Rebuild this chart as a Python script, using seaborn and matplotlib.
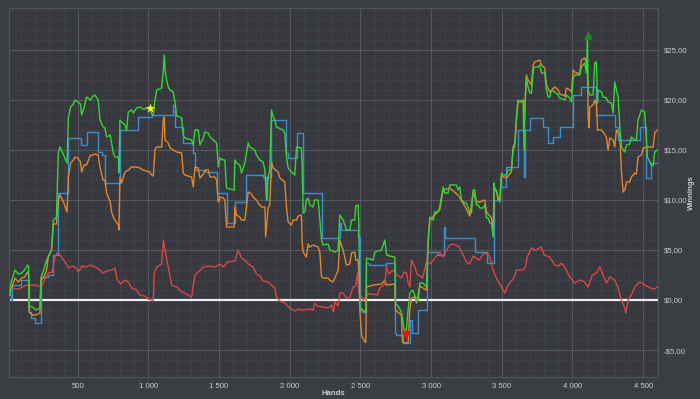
import pandas as pd
import matplotlib
matplotlib.use("Agg")
import matplotlib.pyplot as plt
import seaborn as sns
from matplotlib.ticker import FuncFormatter, MultipleLocator

# --- data (hands, winnings in $) ---
green_hands = [20, 28, 57, 80, 104, 125, 145, 153, 156, 180, 205, 233, 241, 260, 280, 292, 315, 328, 350,
               363, 375, 400, 425, 434, 450, 470, 481, 500, 520, 528, 545, 563, 590, 610, 622, 645, 658,
               680, 693, 705, 730, 752, 764, 788, 792, 799, 811, 835, 846, 858, 882, 893, 917, 940, 964,
               1011, 1023, 1035, 1047, 1059, 1094, 1106, 1113, 1118, 1129, 1141, 1153, 1176, 1188, 1200,
               1224, 1235, 1247, 1259, 1306, 1318, 1330, 1353, 1365, 1389, 1400, 1424, 1436, 1459, 1483,
               1495, 1507, 1530, 1541, 1553, 1607, 1612, 1624, 1647, 1659, 1682, 1706, 1718, 1753, 1765,
               1788, 1812, 1824, 1836, 1847, 1859, 1871, 1883, 1895, 1906, 1953, 1965, 1977, 1989, 2012,
               2036, 2048, 2083, 2088, 2095, 2107, 2118, 2130, 2142, 2165, 2177, 2201, 2213, 2225, 2236,
               2272, 2283, 2319, 2343, 2354, 2378, 2401, 2425, 2437, 2460, 2467, 2484, 2489, 2496, 2515,
               2538, 2543, 2590, 2602, 2649, 2673, 2685, 2708, 2743, 2748, 2767, 2790, 2809, 2825, 2837,
               2849, 2871, 2896, 2910, 2920, 2943, 2967, 2979, 2991, 3014, 3026, 3049, 3061, 3085, 3097,
               3120, 3132, 3179, 3191, 3203, 3215, 3238, 3250, 3274, 3286, 3297, 3309, 3321, 3333, 3345,
               3368, 3380, 3392, 3403, 3415, 3427, 3439, 3446, 3451, 3462, 3474, 3486, 3498, 3509, 3533,
               3545, 3568, 3580, 3592, 3604, 3615, 3627, 3651, 3658, 3665, 3674, 3686, 3698, 3710, 3722,
               3733, 3757, 3769, 3781, 3804, 3816, 3828, 3839, 3851, 3875, 3899, 3910, 3946, 3957, 3981,
               3993, 4005, 4016, 4052, 4063, 4087, 4099, 4106, 4111, 4122, 4146, 4158, 4170, 4177, 4181,
               4205, 4217, 4240, 4252, 4276, 4288, 4299, 4311, 4323, 4335, 4346, 4370, 4382, 4405, 4417,
               4441, 4452, 4464, 4488, 4511, 4530, 4558, 4570, 4582, 4600]
green_vals = [0.5, 1.7, 3.0, 2.6, 2.7, 3.0, 3.5, 3.3, -0.6, -0.7, -1.0, -0.8, 2.3, 3.0, 4.0, 4.3, 5.0, 8.0, 8.3,
              14.7, 15.3, 14.5, 13.7, 18.2, 19.3, 19.6, 20.0, 19.8, 19.6, 18.5, 19.2, 20.3, 20.0, 20.4, 20.5, 20.0, 18.0,
              17.3, 17.2, 16.3, 16.5, 14.7, 14.3, 14.3, 12.7, 18.0, 17.8, 17.5, 17.0, 18.8, 19.0, 18.7, 19.2, 19.3, 19.1,
              19.2, 18.6, 18.5, 20.0, 21.0, 21.2, 23.0, 24.5, 23.0, 22.0, 21.3, 21.0, 20.8, 19.8, 18.4,
              18.3, 18.2, 16.5, 16.2, 16.0, 15.5, 17.0, 17.0, 15.5, 16.2, 16.8, 16.7, 16.3, 16.0, 15.7,
              13.3, 14.2, 14.0, 14.0, 11.2, 11.0, 14.0, 13.7, 13.5, 12.7, 13.7, 15.7, 15.3, 15.0, 14.5,
              14.0, 13.8, 13.0, 10.0, 12.3, 13.0, 19.0, 18.3, 18.0, 17.3, 17.0, 16.7, 14.3, 13.2, 12.8,
              12.5, 15.3, 15.2, 13.3, 8.7, 8.8, 10.0, 10.2, 9.5, 9.3, 10.0, 10.0, 8.0, 6.0, 5.5,
              5.6, 5.0, 4.8, 5.0, 8.5, 8.0, 7.0, 7.0, 8.0, 8.0, 9.4, 9.5, 7.5, -0.7, -1.0,
              -1.2, 4.2, 4.0, 4.8, 5.0, 6.0, 4.5, 4.4, 4.3, -0.3, -0.6, -1.2, -3.0, -3.0, -1.0,
              0.7, 1.0, 0.0, 0.0, 1.7, 1.7, 1.3, 6.0, 8.3, 8.0, 8.8, 8.8, 9.3, 11.3, 10.7,
              10.7, 11.5, 11.5, 11.0, 11.3, 10.0, 9.7, 9.7, 8.7, 8.7, 11.0, 11.0, 9.5, 9.5, 9.2,
              9.2, 9.5, 8.2, 8.2, 7.7, 7.7, 6.3, 11.7, 11.0, 11.0, 10.0, 10.0, 12.7, 12.5, 12.5,
              13.0, 13.0, 15.3, 15.7, 18.3, 20.0, 19.8, 19.8, 15.0, 20.0, 22.2, 21.3, 20.7, 20.7, 23.0,
              23.3, 23.3, 23.5, 22.7, 22.7, 21.0, 20.3, 20.3, 21.0, 20.8, 20.5, 20.2, 20.0, 20.5, 20.2,
              19.8, 22.2, 22.5, 22.5, 23.3, 23.7, 22.7, 26.5, 21.0, 20.5, 20.5, 23.7, 23.8, 19.7, 21.0,
              20.8, 20.3, 20.2, 19.8, 19.7, 18.7, 21.8, 21.0, 20.3, 17.3, 15.3, 14.8, 15.5, 15.6, 16.3,
              16.0, 16.0, 18.0, 19.0, 18.8, 14.3, 13.5, 13.4, 14.8, 15.0]

orange_hands = [20, 28, 57, 80, 104, 125, 145, 153, 156, 180, 205, 233, 241, 260, 280, 292, 315, 328, 350,
                363, 375, 400, 425, 434, 450, 470, 481, 500, 520, 528, 545, 563, 590, 610, 622, 645, 658,
                680, 693, 705, 730, 740, 752, 764, 788, 792, 799, 811, 835, 858, 882, 917, 940, 964, 1011,
                1023, 1035, 1047, 1059, 1094, 1106, 1113, 1118, 1141, 1153, 1176, 1200, 1235, 1247, 1259,
                1306, 1318, 1330, 1353, 1365, 1389, 1400, 1424, 1436, 1471, 1483, 1495, 1507, 1530, 1541,
                1553, 1607, 1612, 1624, 1647, 1659, 1682, 1694, 1706, 1730, 1741, 1765, 1777, 1800, 1824,
                1830, 1847, 1859, 1871, 1883, 1918, 1930, 1965, 1977, 1989, 2012, 2024, 2048, 2059, 2083,
                2088, 2095, 2118, 2130, 2142, 2165, 2201, 2213, 2225, 2236, 2272, 2283, 2305, 2319, 2343,
                2354, 2378, 2401, 2425, 2437, 2460, 2467, 2484, 2489, 2496, 2508, 2531, 2538, 2543, 2590,
                2649, 2673, 2685, 2743, 2748, 2790, 2797, 2826, 2838, 2849, 2861, 2885, 2896, 2920, 2967,
                2979, 2991, 3026, 3061, 3085, 3132, 3191, 3238, 3274, 3297, 3321, 3345, 3380, 3392, 3427,
                3439, 3446, 3462, 3486, 3498, 3533, 3568, 3580, 3592, 3604, 3615, 3651, 3660, 3674, 3686,
                3710, 3722, 3733, 3769, 3781, 3804, 3816, 3839, 3875, 3899, 3910, 3946, 3957, 3981, 3993,
                4005, 4016, 4052, 4063, 4087, 4099, 4106, 4111, 4118, 4122, 4146, 4158, 4170, 4177, 4205,
                4217, 4240, 4252, 4264, 4288, 4299, 4311, 4335, 4346, 4358, 4370, 4382, 4405, 4417, 4441,
                4452, 4464, 4488, 4500, 4530, 4570, 4582, 4600]
orange_vals = [0.5, 1.0, 2.2, 1.8, 2.2, 2.3, 2.8, 2.5, -1.2, -1.5, -1.5, -1.3, 2.0, 2.3, 3.0, 4.3, 5.0, 7.6, 7.6,
               10.0, 10.5, 9.8, 8.8, 12.3, 13.7, 14.0, 14.3, 14.2, 13.8, 12.8, 13.5, 13.5, 14.5, 14.5, 14.6, 14.5, 13.3,
               12.0, 12.0, 10.7, 9.8, 8.8, 8.3, 8.0, 7.5, 7.0, 12.3, 11.7, 12.8, 13.0, 13.3, 13.3, 13.2, 13.0, 12.8,
               12.5, 12.4, 15.0, 15.3, 15.3, 18.0, 18.3, 16.0, 15.7, 15.2, 15.0, 14.8, 14.7, 12.7, 12.5,
               12.3, 11.3, 13.3, 13.2, 12.2, 12.6, 13.0, 13.0, 12.3, 12.3, 12.0, 9.8, 10.3, 10.2, 10.0,
               7.3, 7.3, 9.3, 8.5, 8.3, 8.0, 8.0, 9.3, 10.8, 10.6, 10.3, 10.0, 9.7, 9.3, 9.3,
               6.3, 9.2, 9.5, 13.8, 13.2, 12.8, 12.2, 11.8, 9.3, 7.8, 7.5, 8.0, 8.0, 8.4, 8.5,
               5.7, 4.8, 4.3, 5.6, 5.3, 5.5, 5.3, 4.8, 2.3, 2.2, 2.2, 2.0, 1.8, 2.2, 3.0,
               6.0, 5.0, 3.5, 3.6, 4.7, 4.8, 4.0, 4.0, 2.7, -1.0, -3.5, -4.2, -4.2, 1.3, 1.5,
               1.6, 2.0, 1.5, 1.6, -1.0, -1.5, -4.2, -4.3, -4.2, -1.0, 0.2, 0.3, -0.3, 1.4, 1.0,
               5.7, 8.0, 8.5, 9.0, 11.0, 11.2, 10.5, 9.4, 8.4, 10.8, 9.8, 9.8, 10.0, 8.8, 8.2,
               6.8, 11.4, 10.8, 9.8, 12.4, 12.2, 12.8, 15.0, 15.4, 18.0, 19.8, 20.0, 18.0, 22.5, 22.0,
               21.5, 23.5, 23.8, 24.0, 23.5, 23.2, 21.5, 20.8, 21.3, 21.0, 20.6, 20.4, 21.2, 21.0, 20.8,
               23.0, 22.8, 22.6, 24.0, 24.2, 23.7, 23.0, 18.3, 17.2, 19.3, 19.5, 20.0, 19.5, 17.0, 17.0,
               16.8, 16.3, 15.0, 16.2, 16.0, 15.3, 17.0, 16.5, 13.0, 10.8, 11.0, 11.8, 11.8, 12.3, 12.7,
               12.6, 14.3, 14.5, 15.2, 15.3, 15.3, 16.7, 17.0]

# blue changes in steps
blue_hands = [20, 25, 32, 100, 156, 170, 198, 241, 292, 328, 363, 434, 523, 563, 646, 670, 693, 799, 929,
              1023, 1176, 1188, 1247, 1318, 1330, 1400, 1483, 1553, 1612, 1694, 1812, 1829, 1838, 1871,
              1977, 1989, 2048, 2095, 2225, 2354, 2366, 2484, 2496, 2508, 2543, 2560, 2684, 2748, 2755,
              2802, 2849, 2867, 2908, 2972, 3050, 3089, 3100, 3309, 3392, 3446, 3486, 3533, 3615, 3658,
              3663, 3698, 3792, 3827, 3860, 3910, 4004, 4063, 4169, 4299, 4323, 4476, 4523, 4558, 4600]
blue_vals = [0.5, 0.0, 1.5, 2.0, -1.2, -1.8, -2.3, 2.3, 2.5, 4.5, 10.7, 16.2, 15.5, 16.8, 14.8, 14.5, 11.7, 17.0, 18.3,
             18.5, 19.5, 17.3, 15.7, 14.7, 13.0, 12.8, 10.7, 7.7, 9.8, 12.5, 12.3, 10.0, 12.3, 18.0,
             14.7, 14.2, 16.7, 10.7, 6.2, 7.7, 7.0, 6.3, -1.0, -1.2, 3.7, 3.5, 3.7, -3.3, -3.5,
             -4.3, -2.0, -3.3, -1.0, 4.8, 4.5, 7.3, 6.2, 4.8, 3.7, 10.0, 11.3, 13.3, 17.0, 12.3,
             17.0, 18.2, 17.3, 15.7, 16.3, 17.3, 20.5, 21.3, 18.5, 17.3, 16.0, 17.3, 12.2, 13.7, 13.7]

red_hands = [20, 40, 80, 110, 135, 160, 200, 241, 265, 292, 320, 340, 355, 375, 400, 425, 434, 460, 490, 505,
             530, 560, 590, 620, 640, 680, 705, 740, 764, 780, 805, 835, 858, 882, 917, 940, 975, 1000,
             1023, 1035, 1042, 1059, 1094, 1106, 1118, 1141, 1165, 1200, 1240, 1283, 1306, 1330, 1353,
             1389, 1424, 1471, 1507, 1530, 1560, 1612, 1635, 1659, 1682, 1706, 1741, 1765, 1788, 1812,
             1847, 1871, 1895, 1906, 1930, 1965, 2000, 2036, 2060, 2090, 2142, 2165, 2177, 2195, 2236,
             2272, 2295, 2310, 2319, 2343, 2354, 2378, 2401, 2425, 2449, 2467, 2479, 2489, 2500, 2520,
             2555, 2590, 2620, 2637, 2673, 2684, 2700, 2730, 2760, 2790, 2810, 2826, 2838, 2850, 2861,
             2885, 2900, 2920, 2940, 2967, 2990, 3017, 3061, 3085, 3110, 3132, 3160, 3200, 3250, 3272,
             3298, 3340, 3368, 3400, 3415, 3438, 3462, 3490, 3521, 3545, 3585, 3604, 3650, 3668, 3680,
             3710, 3740, 3780, 3800, 3839, 3875, 3900, 3923, 3946, 3981, 4016, 4052, 4087, 4111, 4140,
             4170, 4193, 4217, 4240, 4264, 4299, 4323, 4346, 4370, 4377, 4394, 4417, 4441, 4476, 4511,
             4550, 4580, 4600]
red_vals = [1.0, 1.2, 1.1, 1.3, 1.5, 1.5, 1.5, 1.3, 2.0, 2.7, 2.8, 4.3, 4.7, 4.5, 4.0, 3.5, 3.2, 3.4, 3.2, 2.8,
            3.4, 3.3, 3.5, 3.3, 3.2, 2.7, 2.9, 3.0, 3.2, 2.0, 1.6, 2.0, 1.8, 1.2, 1.0, 0.5, 0.4, 0.1,
            0.0, 0.0, 2.7, 3.3, 3.6, 6.0, 5.0, 3.3, 1.5, 1.3, 0.8, 0.5, 0.3, 2.5, 2.8,
            3.3, 3.4, 3.3, 3.6, 3.3, 3.8, 3.9, 5.0, 4.2, 4.0, 3.6, 3.3, 2.6, 2.4, 1.9,
            1.8, 1.5, 1.2, 0.3, -0.1, -0.3, -0.8, -1.1, -0.9, -1.0, -0.9, -1.0, -0.3, -0.6, -0.7,
            -0.8, -0.5, -1.2, -0.2, -0.6, 0.7, 0.7, 0.2, 0.3, 1.3, 1.4, 2.7, 0.8, 0.5, 0.0,
            0.6, 0.6, 0.5, 1.2, 1.6, 3.3, 2.6, 3.0, 2.5, 2.2, 2.8, 2.7, 1.7, 1.3, 4.0,
            3.3, 2.6, 2.4, 2.2, 3.8, 3.6, 4.0, 4.8, 4.3, 5.0, 5.5, 5.6, 5.3, 3.8, 3.6,
            4.4, 4.0, 4.6, 4.7, 4.3, 3.0, 2.2, 1.5, 0.7, 1.5, 2.2, 3.0, 3.0, 3.3, 4.3,
            5.2, 5.0, 5.3, 4.5, 4.3, 3.5, 3.4, 3.7, 3.3, 2.3, 1.7, 2.0, 1.8, 1.3, 2.5,
            2.7, 3.3, 2.5, 1.7, 2.3, 2.0, 1.2, 0.0, -0.8, -1.3, 0.0, 0.5, 1.3, 1.8, 1.5,
            1.2, 1.1, 1.3]

# markers: best point (star), max (up triangle), min (down triangle)
star_point = (1011, 19.2)
max_point = (4108, 26.5)
min_point = (2826, -3.5)

y_ticks = [-5, 0, 5, 10, 15, 20, 25]
x_ticks = [500, 1000, 1500, 2000, 2500, 3000, 3500, 4000, 4500]

BG = "#3a3d42"
AX_BG = "#37393e"
TXT = "#c9cbce"

sns.set_theme(style="dark")
plt.rcParams["font.family"] = ["Liberation Sans", "DejaVu Sans"]

fig = plt.figure(figsize=(7, 3.99), dpi=100, facecolor=BG)
ax = fig.add_axes([0.013, 0.055, 0.927, 0.925])
ax.set_facecolor(AX_BG)

green = pd.DataFrame({"Hands": green_hands, "Winnings": green_vals})
orange = pd.DataFrame({"Hands": orange_hands, "Winnings": orange_vals})
blue = pd.DataFrame({"Hands": blue_hands, "Winnings": blue_vals})
red = pd.DataFrame({"Hands": red_hands, "Winnings": red_vals})

ax.axhline(0, color="#eeeeee", lw=1.6, zorder=2)

sns.lineplot(data=blue, x="Hands", y="Winnings", ax=ax, color="#3b8fd0", lw=1.0,
             drawstyle="steps-post", estimator=None, zorder=3)
sns.lineplot(data=orange, x="Hands", y="Winnings", ax=ax, color="#e2872f", lw=1.0,
             estimator=None, zorder=4)
sns.lineplot(data=green, x="Hands", y="Winnings", ax=ax, color="#38d33a", lw=1.0,
             estimator=None, zorder=5)
sns.lineplot(data=red, x="Hands", y="Winnings", ax=ax, color="#d9464a", lw=1.0,
             estimator=None, zorder=4)

ax.scatter(*star_point, marker="*", s=55, color="#ffee22", zorder=6, linewidths=0)
ax.scatter(*max_point, marker="^", s=40, color="#1c8a1c", zorder=6, linewidths=0)
ax.scatter(*min_point, marker="v", s=40, color="#ee1111", zorder=6, linewidths=0)

ax.set_xlim(15, 4605)
ax.set_ylim(-7.7, 29.2)
ax.set_xticks(x_ticks)
ax.set_yticks(y_ticks)
ax.xaxis.set_minor_locator(MultipleLocator(100))
ax.yaxis.set_minor_locator(MultipleLocator(1))
ax.xaxis.set_major_formatter(FuncFormatter(lambda v, p: f"{int(v):,}".replace(",", " ")))
ax.yaxis.set_major_formatter(FuncFormatter(
    lambda v, p: ("-" if v < 0 else "") + "$" + f"{abs(v):.2f}".replace(".", ",")))

ax.yaxis.tick_right()
ax.yaxis.set_label_position("right")
ax.grid(which="major", color="#55585d", lw=0.8)
ax.grid(which="minor", color="#414449", lw=0.5)
ax.tick_params(which="both", length=0, colors=TXT, labelsize=5.6, pad=4)
for s in ax.spines.values():
    s.set_color("#505358")
    s.set_linewidth(0.8)

ax.set_xlabel("Hands", color=TXT, fontsize=5.6, fontweight="bold")
ax.set_ylabel("Winnings", color=TXT, fontsize=5.6, fontweight="bold")
ax.xaxis.set_label_coords(0.5, -0.036)
ax.yaxis.set_label_coords(1.046, 0.5)

fig.savefig("out.png", dpi=100, facecolor=BG)
